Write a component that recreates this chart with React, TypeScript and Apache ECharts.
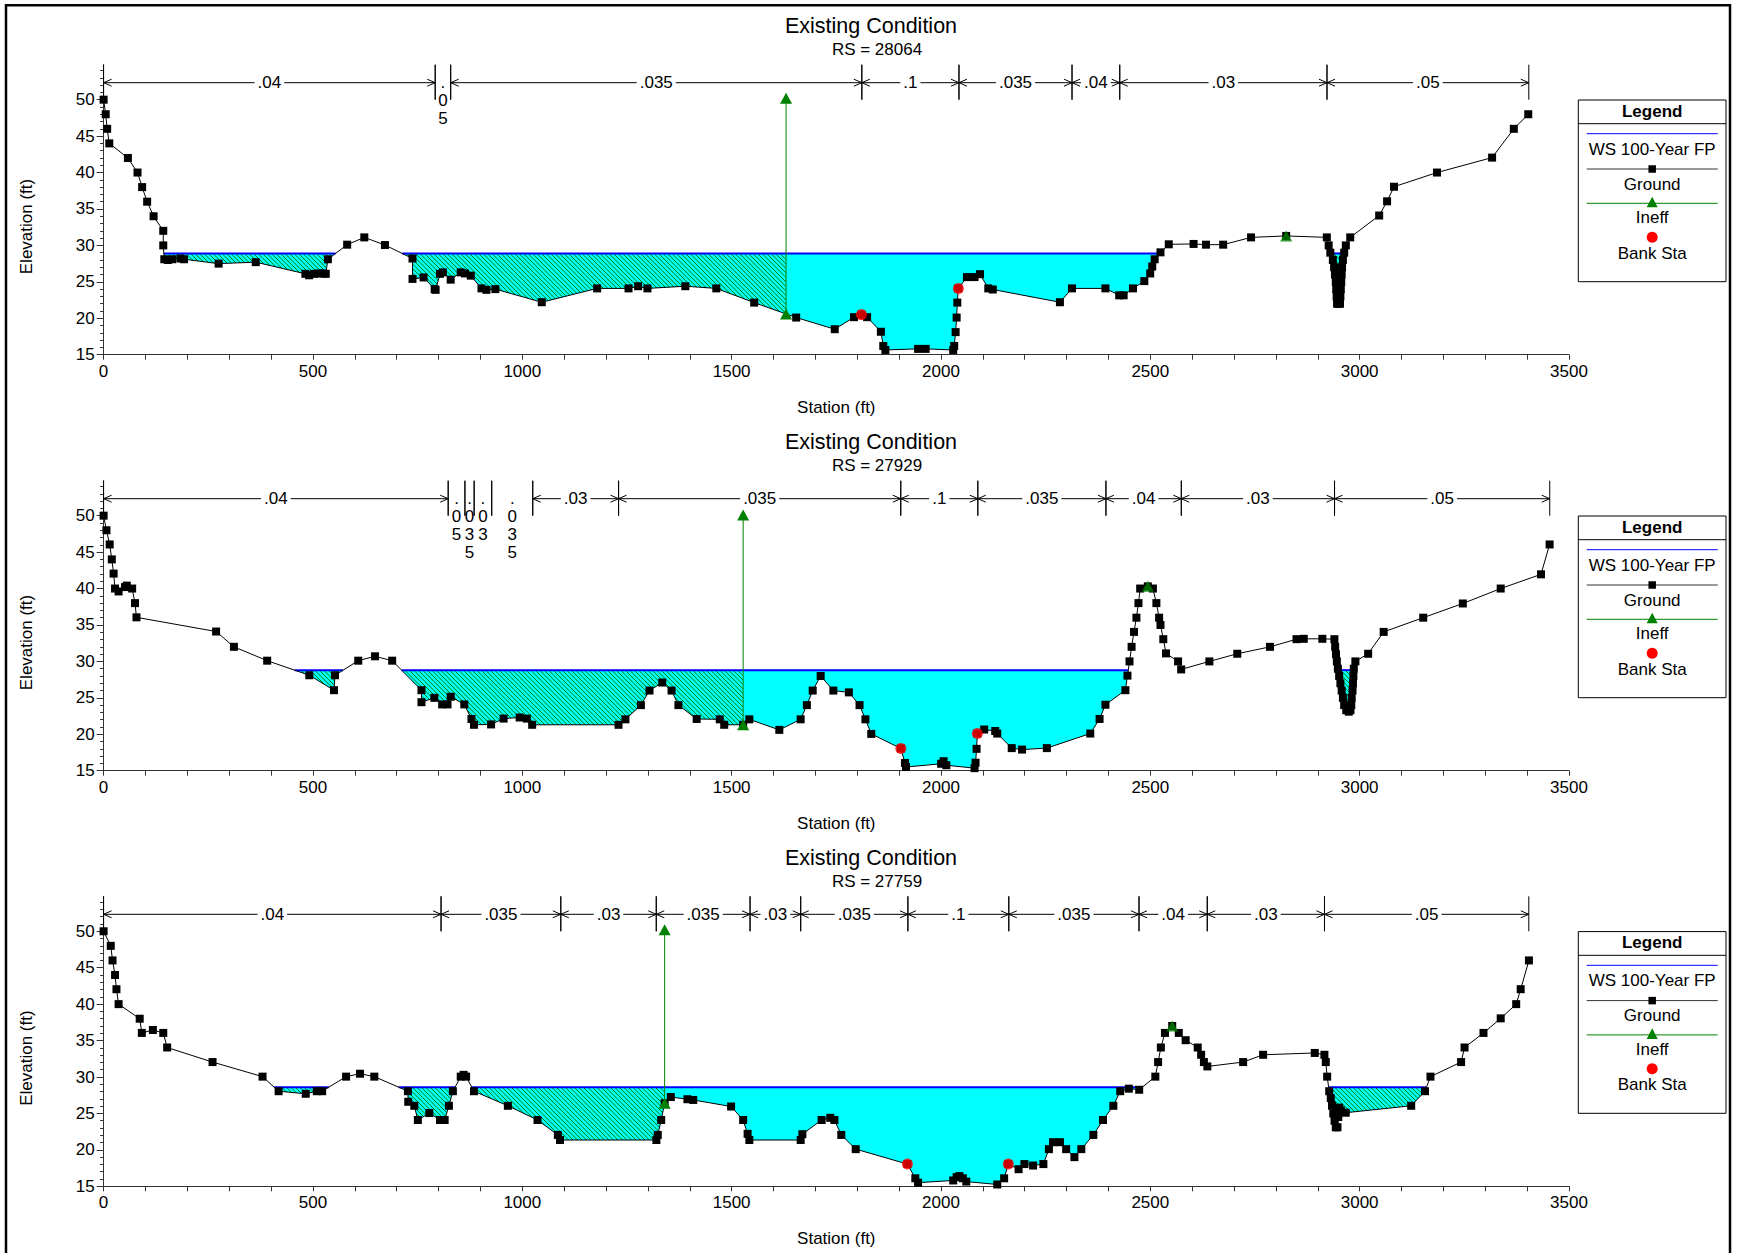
import React, { useEffect, useRef } from 'react';
import * as echarts from 'echarts';

type Pt = [number, number];
const FONT = '"Liberation Sans", Arial, Helvetica, sans-serif';

// ---------------- Data ----------------
const chartTitle = 'Existing Condition';
const stationTitle = 'Station (ft)';
const elevationTitle = 'Elevation (ft)';
const legendLabels = ['WS 100-Year FP', 'Ground', 'Ineff', 'Bank Sta'];
const xTickValues = [0, 500, 1000, 1500, 2000, 2500, 3000, 3500];
const yTickValues = [15, 20, 25, 30, 35, 40, 45, 50];
const riverStations = ['28064', '27929', '27759'];

const ground28064: Pt[] = [
  [0, 50], [5, 48], [8.5, 46], [13.6, 44], [58, 42], [81, 40], [92, 38], [104, 36], [119.4, 34], [142.5, 32],
  [142.5, 30], [145, 28.1], [153.5, 28], [163.8, 28.1], [183.4, 28.2], [192, 28.1], [274.7, 27.5], [363.4, 27.7],
  [482, 26.1], [491, 25.9], [503, 26.1], [514, 26.15], [524.6, 26.15], [530.6, 26.1], [535.7, 28.1], [581.7, 30.1],
  [622.7, 31.1], [672, 30.05], [737.8, 28.2], [737.8, 25.4], [764.3, 25.6], [790.7, 24], [793, 23.9], [803.5, 26.1],
  [810.4, 26.3], [829, 25.3], [853, 26.3], [863, 26.15], [877, 25.85], [902.5, 24.1], [914.4, 23.9], [935.7, 24],
  [1046.5, 22.2], [1178.8, 24.1], [1253.7, 24.1], [1276.7, 24.4], [1298.9, 24.1], [1389.4, 24.4], [1463.4, 24.1],
  [1553.9, 22.15], [1654.2, 20.1], [1746.3, 18.5], [1792.3, 20.15], [1810, 20.5], [1823.6, 20.15], [1856.5, 18.15],
  [1862.2, 16.2], [1867.2, 15.65], [1945.3, 15.8], [1963.4, 15.8], [2029.2, 15.65], [2031.6, 16.2], [2035, 18.1],
  [2037.4, 20.1], [2039, 22.15], [2041.5, 24.1], [2062, 25.65], [2080.2, 25.65], [2093.3, 26.05], [2113, 24.1],
  [2123.8, 23.95], [2284.1, 22.2], [2313, 24.1], [2392.8, 24.1], [2425.7, 23.15], [2436.3, 23.15], [2458.6, 24.1],
  [2485.7, 25.1], [2499.7, 26.15], [2504.6, 27.1], [2510.4, 28.1], [2524.3, 29.05], [2544.1, 30.15], [2603.3, 30.2],
  [2633, 30.1], [2674, 30.1], [2740.6, 31.1], [2824.5, 31.3], [2921.6, 31.1], [2926, 30], [2930, 29], [2936, 28],
  [2939, 27], [2941, 26], [2943, 25], [2944, 24], [2945, 23], [2946, 22], [2950, 22], [2953, 22], [2954, 23],
  [2955, 24], [2956, 25], [2957, 26], [2958, 27], [2960, 28], [2963, 29], [2967, 30], [2977.5, 31.1], [3046.6, 34.1],
  [3065.5, 36.05], [3082, 38.05], [3184.7, 40], [3316.3, 42.05], [3368.2, 46], [3402.7, 48],
];

const ground27929: Pt[] = [
  [0, 50], [6.8, 48], [14.5, 46.05], [19.6, 44], [23.9, 42.05], [27.3, 40], [35.8, 39.6], [51.2, 40.2], [55.4, 40.4],
  [68.2, 40], [75, 38], [78.5, 36.05], [268.7, 34.1], [311.3, 32], [390.7, 30.1], [491.3, 28.1], [550.2, 26.05],
  [552.7, 28.1], [608.2, 30.1], [648.3, 30.7], [689.2, 30.1], [759.2, 26.05], [759.2, 24.4], [789.9, 25], [808.6, 24.1],
  [821.4, 24.1], [829.1, 25.15], [861.5, 24.1], [878.6, 22.1], [884.6, 21.3], [925.5, 21.35], [955.4, 22.15],
  [993.7, 22.3], [1010.8, 22.15], [1023.6, 21.3], [1229.8, 21.3], [1246.3, 22.05], [1283.3, 24], [1303.8, 26],
  [1334.3, 27.1], [1356.5, 26], [1372.9, 24], [1416.5, 22.1], [1471.6, 22.05], [1482.3, 21.3], [1527.5, 21.3],
  [1542.3, 22.05], [1613.9, 20.6], [1664.9, 22.05], [1679.7, 24], [1693.6, 26], [1712.6, 28], [1743, 26],
  [1780, 25.75], [1805.5, 24], [1819.5, 22.05], [1833.5, 20.05], [1904.2, 18.05], [1914, 16.05], [1916.5, 15.5],
  [2000.4, 15.95], [2006.2, 16.3], [2012.8, 15.75], [2080.2, 15.35], [2082.6, 16.1], [2085.1, 18], [2086.8, 20.1],
  [2103.2, 20.65], [2129.5, 20.45], [2134.4, 20.1], [2169, 18.1], [2193.7, 17.9], [2252.9, 18.1], [2356.6, 20.1],
  [2378.8, 22.1], [2392.8, 24.05], [2440.5, 26.05], [2445.4, 28.05], [2450.3, 30], [2455.3, 32], [2461, 34.05],
  [2466.8, 36], [2471.7, 38], [2475.8, 40], [2494, 40.3], [2506.2, 40], [2514.5, 38], [2521, 36], [2524.3, 35],
  [2531, 33.05], [2537.5, 31.1], [2566.3, 30], [2573.7, 28.9], [2641.1, 30], [2707.7, 31.05], [2785.9, 32],
  [2849.2, 33.05], [2866.5, 33.1], [2910.9, 33.1], [2939.7, 33.05], [2941.5, 32], [2943.5, 31], [2945.5, 30],
  [2948, 29], [2951, 28], [2954, 27], [2957, 26], [2960, 25], [2963, 24], [2968, 23.3], [2974, 23.1], [2978, 23.3],
  [2980, 24], [2981, 25], [2983, 26], [2984, 27], [2985, 28], [2986, 29], [2989.8, 30], [3020.3, 31.05],
  [3057.3, 34.05], [3151.8, 36], [3246.4, 37.95], [3336.9, 40], [3433.1, 41.95], [3453.7, 46.05],
];

const ground27759: Pt[] = [
  [0, 50], [17.1, 48], [21.3, 46], [27.3, 44], [30.7, 42.05], [35.8, 40], [86.2, 38], [91.3, 36.05], [117.7, 36.45],
  [142.5, 36.05], [151.8, 34.05], [260.2, 32.05], [379.6, 30.05], [418, 28.05], [482.8, 27.7], [509.2, 28.05],
  [522, 28.05], [579.2, 30.05], [612.5, 30.45], [646.6, 30.05], [726.8, 28.05], [727.6, 26.6], [742.1, 26.05],
  [750.6, 24.1], [777.9, 25.05], [803.5, 24.1], [814.6, 24.1], [824.8, 26.05], [834.2, 28.05], [853, 30.05],
  [859.8, 30.3], [865.8, 30.05], [884.6, 28.05], [965.6, 26.05], [1036.4, 24.1], [1085, 22.05], [1090.1, 21.35],
  [1320.3, 21.35], [1323.6, 22.05], [1331.8, 24.1], [1340, 26.4], [1354.8, 27.25], [1394.3, 26.95], [1408.3, 26.85],
  [1498.7, 25.95], [1527.5, 24.1], [1538.2, 22.2], [1542.3, 21.35], [1664.9, 21.35], [1669, 22.15], [1715, 24.1],
  [1735.6, 24.4], [1745.5, 24.1], [1761.9, 22.05], [1796.4, 20.1], [1919.8, 18.05], [1938.7, 16.1], [1945.3, 15.5],
  [2029.2, 15.8], [2037.4, 16.25], [2044, 16.4], [2052.2, 16.1], [2060.4, 15.65], [2134.4, 15.25], [2150.9, 16.1],
  [2160.8, 18.05], [2185.4, 17.35], [2199.4, 18.05], [2220, 17.85], [2244.6, 18.05], [2257.8, 20.1], [2267.7, 21.05],
  [2284.1, 21.05], [2299, 20.1], [2318.7, 19], [2335.2, 20.1], [2364, 22.05], [2387, 24.1], [2411.7, 26.05],
  [2428.1, 28.05], [2448.7, 28.4], [2473.4, 28.25], [2512, 30.05], [2518.6, 32.05], [2525.2, 34.05], [2535, 36.05],
  [2552.3, 37], [2568, 36.05], [2584.4, 35.05], [2613.2, 34.05], [2621.4, 33.05], [2628, 32.05], [2636.2, 31.45],
  [2721.7, 32.05], [2769.4, 33.05], [2892.8, 33.3], [2915.8, 33.05], [2919.1, 32.05], [2922.4, 30.05], [2927.3, 28.05],
  [2931, 27.1], [2934, 26.05], [2937, 25], [2940, 24], [2943, 23.1], [2947, 23.1], [2949, 24.5], [2951, 25.8],
  [2955, 25.4], [2966.8, 25.1], [3123.1, 26.05], [3156, 28.05], [3169.1, 30.05], [3242.3, 32.05], [3250.5, 34.05],
  [3295.8, 36.05], [3336.9, 38.05], [3373.9, 40], [3384.6, 42.05], [3404.3, 46],
];

const wsElevations = [28.9, 28.8, 28.6];
const banks28064: Pt[] = [[1810, 20.5], [2041.5, 24.1]];
const banks27929: Pt[] = [[1904.2, 18.05], [2086.8, 20.1]];
const banks27759: Pt[] = [[1919.8, 18.05], [2160.8, 18.05]];
// left ineffective station with its elevation; right ineffective marker
const ineffLeft: Pt[] = [[1630, 50.2], [1527.5, 50.1], [1340, 50.2]];
const ineffRight: Pt[] = [[2824.5, 31.3], [2494, 40.3], [2552.3, 37.0]];

const nBreaks28064 = [0, 792, 829, 1811, 2043, 2313, 2427, 2922, 3404];
const nValues28064 = ['.04', '.05', '.035', '.1', '.035', '.04', '.03', '.05'];
const nBreaks27929 = [0, 823, 863, 885, 927, 1025, 1230, 1904, 2088, 2394, 2574, 2940, 3454];
const nValues27929 = ['.04', '.05', '.035', '.03', '.035', '.03', '.035', '.1', '.035', '.04', '.03', '.05'];
const nBreaks27759 = [0, 806, 1092, 1320, 1544, 1665, 1921, 2162, 2473, 2636, 2916, 3404];
const nValues27759 = ['.04', '.035', '.03', '.035', '.03', '.035', '.1', '.035', '.04', '.03', '.05'];

// ---------------- Layout ----------------
const X_MAX = 3500;
const Y_MIN = 15;
const Y_MAX = 54.8;
const N_LINE = 52.33;
const N_BOT = 50;
const GRID_LEFT = 103.6;
const GRID_WIDTH = 1465.4;
const GRID_HEIGHT = 290;
const GRID_TOP0 = 64.7;
const PANEL_DY = [0, 416, 831.6];

const panels = [
  { rs: riverStations[0], ground: ground28064, ws: wsElevations[0], banks: banks28064, iL: ineffLeft[0], iR: ineffRight[0], nb: nBreaks28064, nv: nValues28064 },
  { rs: riverStations[1], ground: ground27929, ws: wsElevations[1], banks: banks27929, iL: ineffLeft[1], iR: ineffRight[1], nb: nBreaks27929, nv: nValues27929 },
  { rs: riverStations[2], ground: ground27759, ws: wsElevations[2], banks: banks27759, iL: ineffLeft[2], iR: ineffRight[2], nb: nBreaks27759, nv: nValues27759 },
];

// ---------------- Helpers ----------------
function groundAt(g: Pt[], x: number): number {
  for (let i = 0; i < g.length - 1; i++) {
    const a = g[i], b = g[i + 1];
    if (x >= a[0] && x <= b[0]) {
      if (b[0] === a[0]) return a[1];
      return a[1] + ((b[1] - a[1]) * (x - a[0])) / (b[0] - a[0]);
    }
  }
  return g[g.length - 1][1];
}

function clipProfile(g: Pt[], a: number, b: number): Pt[] {
  const out: Pt[] = [[a, groundAt(g, a)]];
  for (const p of g) if (p[0] > a && p[0] < b) out.push(p);
  out.push([b, groundAt(g, b)]);
  return out;
}

function wetPolys(q: Pt[], ws: number): Pt[][] {
  const polys: Pt[][] = [];
  let cur: Pt[] | null = null;
  if (q[0][1] < ws) cur = [[q[0][0], ws], q[0]];
  for (let i = 1; i < q.length; i++) {
    const p = q[i - 1], c = q[i];
    const pw = p[1] < ws, cw = c[1] < ws;
    if (pw && cw) {
      cur!.push(c);
    } else if (pw && !cw) {
      const xi = p[0] + ((ws - p[1]) * (c[0] - p[0])) / (c[1] - p[1]);
      cur!.push([xi, ws]);
      polys.push(cur!);
      cur = null;
    } else if (!pw && cw) {
      const xi = p[0] + ((ws - p[1]) * (c[0] - p[0])) / (c[1] - p[1]);
      cur = [[xi, ws], c];
    }
  }
  if (cur) {
    cur.push([q[q.length - 1][0], ws]);
    polys.push(cur);
  }
  return polys;
}

function buildWater(panel: any) {
  const intervals: [number, number, boolean][] = [
    [0, panel.iL[0], true],
    [panel.iL[0], panel.iR[0], false],
    [panel.iR[0], X_MAX, true],
  ];
  const res: { pts: Pt[]; hatched: boolean }[] = [];
  for (const [a, b, h] of intervals) {
    const q = clipProfile(panel.ground, a, b);
    for (const pts of wetPolys(q, panel.ws)) res.push({ pts, hatched: h });
  }
  return res;
}

function hatchPath(pts: number[][], step: number): string {
  let minX = Infinity, maxX = -Infinity, minY = Infinity, maxY = -Infinity;
  for (const p of pts) {
    minX = Math.min(minX, p[0]); maxX = Math.max(maxX, p[0]);
    minY = Math.min(minY, p[1]); maxY = Math.max(maxY, p[1]);
  }
  const cStart = Math.floor((minY - maxX) / step) * step;
  const cEnd = maxY - minX;
  const n = pts.length;
  let d = '';
  for (let c = cStart; c <= cEnd; c += step) {
    const xs: number[] = [];
    for (let i = 0; i < n; i++) {
      const p = pts[i], q = pts[(i + 1) % n];
      const f1 = p[1] - p[0] - c, f2 = q[1] - q[0] - c;
      if ((f1 > 0) !== (f2 > 0)) {
        const t = f1 / (f1 - f2);
        xs.push(p[0] + t * (q[0] - p[0]));
      }
    }
    xs.sort((u, v) => u - v);
    for (let k = 0; k + 1 < xs.length; k += 2) {
      d += `M${xs[k].toFixed(2)} ${(xs[k] + c).toFixed(2)}L${xs[k + 1].toFixed(2)} ${(xs[k + 1] + c).toFixed(2)}`;
    }
  }
  return d;
}

function textWidth(s: string, size: number) {
  let w = 0;
  for (const ch of s) w += ch === '.' ? 0.278 : 0.556;
  return w * size;
}

function txt(text: string, x: number, y: number, size = 17, extra: any = {}) {
  return {
    type: 'text',
    x,
    y,
    silent: true,
    style: {
      text,
      fill: '#000',
      fontSize: size,
      fontFamily: FONT,
      align: 'center',
      verticalAlign: 'middle',
      textAlign: 'center',
      textVerticalAlign: 'middle',
      ...extra,
    },
  };
}

function legendElements(dy: number) {
  const L = 1578.3, T = 100 + dy, W = 147.7, H = 181.7, cx = 1652.2;
  const x1 = 1586.7, x2 = 1717.7;
  const hl = (y: number, color: string) => ({
    type: 'line', silent: true,
    shape: { x1, y1: y, x2, y2: y },
    style: { stroke: color, lineWidth: 1 },
  });
  return [
    { type: 'rect', silent: true, shape: { x: L, y: T, width: W, height: H }, style: { fill: '#fff', stroke: '#000', lineWidth: 1 } },
    { type: 'line', silent: true, shape: { x1: L, y1: T + 23.7, x2: L + W, y2: T + 23.7 }, style: { stroke: '#000', lineWidth: 1 } },
    txt('Legend', cx, T + 11.2, 17, { fontWeight: 'bold' }),
    hl(T + 33.7, '#0000FF'),
    txt(legendLabels[0], cx, T + 49.3),
    hl(T + 69, '#333'),
    { type: 'rect', silent: true, shape: { x: cx - 3.75, y: T + 69 - 3.75, width: 7.5, height: 7.5 }, style: { fill: '#000' } },
    txt(legendLabels[1], cx, T + 84.3),
    hl(T + 103.3, '#008000'),
    { type: 'polygon', silent: true, shape: { points: [[cx, T + 96.7], [cx - 5.5, T + 107.3], [cx + 5.5, T + 107.3]] }, style: { fill: '#008000' } },
    txt(legendLabels[2], cx, T + 117.7),
    { type: 'circle', silent: true, shape: { cx, cy: T + 137.2, r: 5.5 }, style: { fill: '#FF0000' } },
    txt(legendLabels[3], cx, T + 153.3),
  ];
}

function nBarRender(breaks: number[], values: string[]) {
  return (params: any, api: any) => {
    const k = params.dataIndex;
    const a = breaks[k], b = breaks[k + 1], label = values[k];
    const pa = api.coord([a, N_LINE]);
    const pb = api.coord([b, N_LINE]);
    const xa = pa[0], xb = pb[0], yl = pa[1];
    const yt = api.coord([a, Y_MAX])[1];
    const yb = api.coord([a, N_BOT])[1];
    const stroke = '#000';
    const children: any[] = [
      { type: 'line', shape: { x1: xa, y1: yt, x2: xa, y2: yb }, style: { stroke, lineWidth: 1, fill: 'none' } },
      { type: 'line', shape: { x1: xb, y1: yt, x2: xb, y2: yb }, style: { stroke, lineWidth: 1, fill: 'none' } },
    ];
    const tw = textWidth(label, 17);
    const cx = (xa + xb) / 2;
    if (xb - xa >= tw + 10) {
      children.push({ type: 'line', shape: { x1: xa, y1: yl, x2: xb, y2: yl }, style: { stroke, lineWidth: 1, fill: 'none' } });
      children.push({ type: 'polyline', shape: { points: [[xa + 8, yl - 3.5], [xa, yl], [xa + 8, yl + 3.5]] }, style: { stroke, lineWidth: 1, fill: 'none' } });
      children.push({ type: 'polyline', shape: { points: [[xb - 8, yl - 3.5], [xb, yl], [xb - 8, yl + 3.5]] }, style: { stroke, lineWidth: 1, fill: 'none' } });
      children.push({
        type: 'text', x: cx, y: yl, z2: 10,
        style: {
          text: label, fill: '#000', fontSize: 17, fontFamily: FONT,
          align: 'center', verticalAlign: 'middle', textAlign: 'center', textVerticalAlign: 'middle',
          backgroundColor: '#fff', padding: [1, 3],
        },
      });
    } else {
      children.push({
        type: 'text', x: cx, y: yl - 8.9,
        style: {
          text: label.split('').join('\n'), fill: '#000', fontSize: 17, fontFamily: FONT, lineHeight: 17.8,
          align: 'center', verticalAlign: 'top', textAlign: 'center', textVerticalAlign: 'top',
        },
      });
    }
    return { type: 'group', children };
  };
}

function buildOption() {
  const grids: any[] = [];
  const xAxes: any[] = [];
  const yAxes: any[] = [];
  const series: any[] = [];
  const graphics: any[] = [];

  graphics.push({ type: 'rect', silent: true, shape: { x: 6, y: 5.3, width: 1724, height: 1270 }, style: { fill: 'none', stroke: '#000', lineWidth: 2.5 } });

  panels.forEach((panel, i) => {
    const dy = PANEL_DY[i];
    grids.push({ left: GRID_LEFT, top: GRID_TOP0 + dy, width: GRID_WIDTH, height: GRID_HEIGHT, outerBoundsMode: 'none', containLabel: false });
    xAxes.push({
      type: 'value', gridIndex: i, min: 0, max: X_MAX, interval: 100,
      name: stationTitle, nameLocation: 'middle', nameGap: 44,
      nameTextStyle: { color: '#000', fontSize: 17, fontFamily: FONT },
      axisLine: { show: true, onZero: false, lineStyle: { color: '#333', width: 1 } },
      axisTick: { show: true, length: 5, lineStyle: { color: '#333' } },
      axisLabel: {
        color: '#000', fontSize: 17, fontFamily: FONT, margin: 8,
        formatter: (v: number) => (xTickValues.indexOf(v) >= 0 ? String(v) : ''),
      },
      splitLine: { show: false },
    });
    yAxes.push({
      type: 'value', gridIndex: i, min: Y_MIN, max: Y_MAX, interval: 5,
      axisLine: { show: true, onZero: false, lineStyle: { color: '#333', width: 1 } },
      axisTick: { show: true, length: 7, lineStyle: { color: '#333' }, customValues: yTickValues },
      minorTick: { show: true, splitNumber: 5, length: 3.5, lineStyle: { color: '#333' } },
      axisLabel: {
        color: '#000', fontSize: 17, fontFamily: FONT, margin: 9, customValues: yTickValues,
        formatter: (v: number) => (yTickValues.indexOf(v) >= 0 ? String(v) : ''),
      },
      splitLine: { show: false },
      minorSplitLine: { show: false },
    });

    // water polygons
    const polys = buildWater(panel);
    series.push({
      type: 'custom', xAxisIndex: i, yAxisIndex: i, z: 1, silent: true,
      data: polys.map((p) => [p.pts[0][0], panel.ws]),
      renderItem: (params: any, api: any) => {
        const poly = polys[params.dataIndex];
        const pts = poly.pts.map((p) => api.coord(p));
        const children: any[] = [
          { type: 'polygon', shape: { points: pts }, style: { fill: '#00FFFF', stroke: 'none' } },
        ];
        if (poly.hatched) {
          const d = hatchPath(pts, 4.5);
          if (d) children.push({ type: 'path', shape: { pathData: d }, style: { stroke: '#008000', lineWidth: 1, fill: 'none' } });
        }
        const f = pts[0], l = pts[pts.length - 1];
        children.push({ type: 'line', shape: { x1: f[0], y1: f[1], x2: l[0], y2: l[1] }, style: { stroke: '#0000FF', lineWidth: 2, fill: 'none' } });
        return { type: 'group', children };
      },
    });

    // ground
    series.push({
      type: 'line', xAxisIndex: i, yAxisIndex: i, z: 3, silent: true,
      data: panel.ground, symbol: 'rect', symbolSize: 8, showAllSymbol: true,
      itemStyle: { color: '#000' }, lineStyle: { color: '#000', width: 1 },
    });

    // ineffective flow
    const iBase = groundAt(panel.ground, panel.iL[0]);
    series.push({
      type: 'line', xAxisIndex: i, yAxisIndex: i, z: 4, silent: true,
      data: [[panel.iL[0], iBase], panel.iL], symbol: 'triangle', symbolSize: [12, 11], showAllSymbol: true,
      itemStyle: { color: '#008000' }, lineStyle: { color: '#008000', width: 1 },
    });
    series.push({
      type: 'scatter', xAxisIndex: i, yAxisIndex: i, z: 4, silent: true,
      data: [panel.iR], symbol: 'triangle', symbolSize: [12, 11], itemStyle: { color: '#008000' },
    });

    // bank stations
    series.push({
      type: 'scatter', xAxisIndex: i, yAxisIndex: i, z: 5, silent: true,
      data: panel.banks, symbol: 'circle', symbolSize: 11, itemStyle: { color: '#FF0000' },
    });

    // Manning's n bars
    series.push({
      type: 'custom', xAxisIndex: i, yAxisIndex: i, z: 6, silent: true,
      data: panel.nv.map((_: string, k: number) => [panel.nb[k], N_LINE, panel.nb[k + 1]]),
      renderItem: nBarRender(panel.nb, panel.nv),
    });

    // texts
    graphics.push(txt(chartTitle, 871, 26 + dy, 21.5));
    graphics.push(txt('RS = ' + panel.rs, 877, 49.5 + dy, 17));
    graphics.push({ ...txt(elevationTitle, 26.8, 226.5 + dy, 17), rotation: Math.PI / 2 });
    graphics.push(...legendElements(dy));
  });

  return {
    animation: false,
    backgroundColor: '#fff',
    grid: grids,
    xAxis: xAxes,
    yAxis: yAxes,
    series,
    graphic: { elements: graphics },
  };
}

export default function App() {
  const ref = useRef<HTMLDivElement>(null);
  useEffect(() => {
    if (!ref.current) return;
    const chart = echarts.init(ref.current, undefined, { renderer: 'svg' });
    chart.setOption(buildOption() as any);
    return () => chart.dispose();
  }, []);
  return (
    <div
      ref={ref}
      style={{ position: 'absolute', left: 0, top: 0, width: 1737, height: 1253, background: '#fff' }}
    />
  );
}
